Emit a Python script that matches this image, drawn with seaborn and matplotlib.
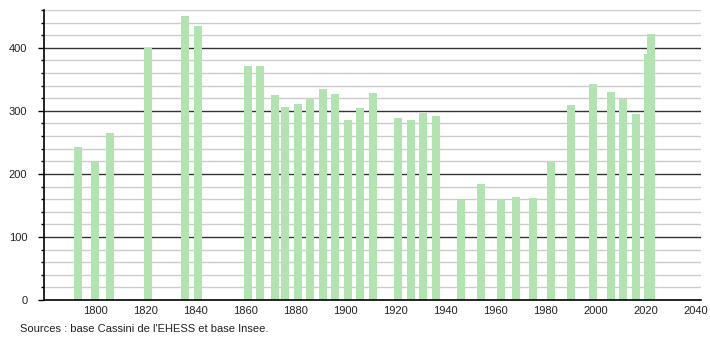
import matplotlib
matplotlib.use("Agg")
import matplotlib.pyplot as plt
import seaborn as sns
import pandas as pd
from matplotlib.ticker import MultipleLocator

years = [1793, 1800, 1806, 1821, 1836, 1841, 1861, 1866, 1872, 1876, 1881, 1886,
         1891, 1896, 1901, 1906, 1911, 1921, 1926, 1931, 1936, 1946, 1954, 1962,
         1968, 1975, 1982, 1990, 1999, 2006, 2011, 2016, 2021, 2022]
population = [243, 219, 265, 400, 450, 435, 371, 371, 325, 306, 311, 319,
              335, 327, 286, 305, 329, 289, 286, 297, 292, 159, 184, 160,
              163, 162, 221, 310, 343, 330, 319, 295, 391, 422]
xticks = [1800, 1820, 1840, 1860, 1880, 1900, 1920, 1940, 1960, 1980, 2000, 2020, 2040]
source_text = "Sources : base Cassini de l'EHESS et base Insee."

df = pd.DataFrame({"year": years, "population": population})

sns.set_style("white")
plt.rcParams["font.family"] = ["Liberation Sans", "DejaVu Sans"]
plt.rcParams["text.color"] = "#222222"
plt.rcParams["xtick.color"] = "black"
plt.rcParams["ytick.color"] = "black"
plt.rcParams["xtick.labelcolor"] = "#222222"
plt.rcParams["ytick.labelcolor"] = "#222222"

fig = plt.figure(figsize=(7.1, 3.4), dpi=100)
ax = fig.add_axes([44/710, 40/340, (701-44)/710, 290/340])

for y in range(20, 461, 20):
    if y % 100 == 0:
        ax.axhline(y, color="#333333", lw=1.0, zorder=0)
    else:
        ax.axhline(y, color="#cccccc", lw=1.0, zorder=0)

sns.barplot(data=df, x="year", y="population", native_scale=True, width=3.2,
            color="#b2e4b2", saturation=1, linewidth=0, ax=ax, zorder=2, errorbar=None)

ax.set_xlim(1779.6, 2042)
ax.set_ylim(0, 460)
ax.set_xticks(xticks)
ax.set_xticklabels([str(t) for t in xticks])
ax.yaxis.set_major_locator(MultipleLocator(100))
ax.yaxis.set_minor_locator(MultipleLocator(20))
ax.tick_params(axis="y", which="major", length=4, width=1, color="black",
               labelsize=8, pad=8, left=True)
ax.tick_params(axis="y", which="minor", length=2.5, width=1, color="black", left=True)
ax.tick_params(axis="x", length=0, labelsize=8, pad=4)
ax.set_xlabel("")
ax.set_ylabel("")
for s in ["top", "right"]:
    ax.spines[s].set_visible(False)
for s in ["left", "bottom"]:
    ax.spines[s].set_color("black")
    ax.spines[s].set_linewidth(1.2)

fig.text(20/710, 1 - 329/340, source_text, fontsize=8, va="center", ha="left")

fig.savefig("out.png", dpi=100)
